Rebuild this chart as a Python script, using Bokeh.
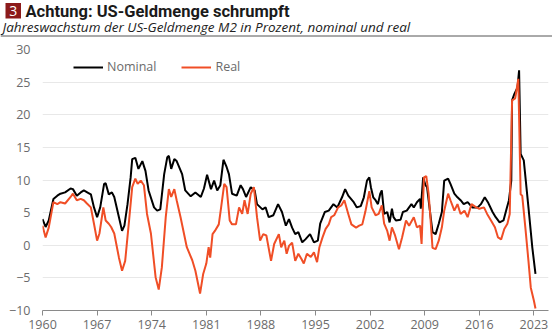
from bokeh.plotting import figure
from bokeh.layouts import column
from bokeh.models import Range1d, FixedTicker, Legend, LegendItem
from bokeh.core.properties import value
from bokeh.embed import file_html
from bokeh.resources import INLINE

# ---- data ----
years_nominal = [1960.0,1960.4,1960.8,1961.4,1961.9,1962.3,1962.9,1963.6,1963.9,1964.4,1964.9,1965.3,1965.9,1966.2,1966.6,1967.0,1967.4,1967.9,1968.1,1968.5,1968.9,1969.2,1969.8,1970.2,1970.5,1970.9,1971.3,1971.5,1971.9,1972.3,1972.8,1973.2,1973.6,1974.3,1974.7,1975.1,1975.6,1976.0,1976.2,1976.5,1976.9,1977.2,1977.9,1978.3,1979.0,1979.6,1980.3,1980.7,1981.1,1981.6,1982.0,1982.4,1982.8,1983.2,1983.6,1983.9,1984.3,1984.9,1985.4,1985.7,1986.1,1986.7,1987.2,1987.5,1988.2,1988.6,1989.0,1989.6,1990.2,1990.7,1991.2,1991.6,1992.0,1992.4,1992.8,1993.3,1993.7,1994.3,1994.8,1995.3,1995.6,1996.2,1996.7,1997.3,1997.8,1998.4,1998.8,1999.2,1999.9,2000.3,2000.8,2001.2,2001.6,2001.9,2002.1,2002.4,2002.7,2003.0,2003.3,2003.5,2003.8,2004.2,2004.5,2004.8,2005.0,2005.3,2005.9,2006.2,2006.7,2007.3,2007.6,2008.0,2008.4,2008.5,2008.8,2009.1,2009.3,2009.5,2010.0,2010.4,2010.8,2011.2,2011.5,2012.0,2012.3,2012.8,2013.2,2013.6,2014.0,2014.5,2015.1,2015.8,2016.2,2016.7,2017.1,2017.7,2018.1,2018.6,2019.1,2019.5,2019.8,2020.1,2020.2,2020.5,2020.9,2021.1,2021.3,2021.7,2022.3,2022.8,2023.2]
nominal = [4.0,2.8,3.8,7.1,7.6,7.9,8.1,8.7,8.6,7.6,8.1,8.4,8.0,7.8,5.8,4.3,5.8,9.4,9.5,7.8,8.1,7.4,4.3,2.2,3.0,6.3,10.4,13.2,13.4,11.7,12.9,11.4,8.4,5.8,5.3,5.5,10.9,13.5,13.7,11.7,13.2,12.9,10.9,8.4,7.5,8.1,7.4,8.7,10.8,8.6,9.9,8.4,9.2,13.1,12.0,10.9,7.9,7.6,9.2,8.6,7.4,8.9,8.4,6.3,5.5,5.8,4.3,4.6,6.3,5.1,3.0,4.0,2.7,1.7,2.0,0.45,0.9,1.7,0.45,0.7,3.3,5.1,5.3,6.3,5.8,7.35,8.6,7.6,6.6,5.8,6.0,7.35,9.9,10.4,8.9,7.35,6.9,6.3,7.9,8.4,4.8,5.1,3.5,5.6,4.3,3.8,3.9,5.1,5.3,6.3,5.8,6.6,7.1,5.6,10.4,9.2,8.9,6.9,2.0,1.7,3.3,5.1,9.9,10.2,9.4,7.9,7.35,6.9,6.3,6.6,5.8,5.8,6.3,7.35,6.6,5.1,4.3,3.5,3.8,5.6,6.9,9.9,22.2,23.2,24.2,26.8,14.0,13.0,5.8,-0.4,-4.4]

years_real = [1960.0,1960.4,1960.8,1961.4,1961.9,1962.3,1962.9,1963.6,1963.9,1964.4,1964.9,1965.3,1965.7,1966.2,1966.6,1967.0,1967.3,1967.8,1968.1,1968.5,1968.8,1969.2,1969.8,1970.2,1970.6,1971.1,1971.5,1971.9,1972.2,1972.6,1973.0,1973.4,1973.9,1974.5,1974.9,1975.3,1975.8,1976.2,1976.5,1976.9,1977.2,1977.7,1978.5,1979.2,1979.6,1980.2,1980.6,1981.0,1981.3,1981.5,1981.8,1982.1,1982.6,1982.9,1983.3,1983.6,1984.0,1984.3,1984.8,1985.2,1985.6,1985.9,1986.3,1986.7,1987.1,1987.5,1987.9,1988.3,1988.7,1989.3,1989.7,1990.3,1990.6,1991.0,1991.3,1991.6,1992.0,1992.4,1992.8,1993.2,1993.5,1993.9,1994.4,1994.8,1995.2,1995.5,1995.9,1996.3,1996.7,1997.0,1997.4,1997.9,1998.3,1998.7,1999.2,1999.6,2000.2,2000.6,2001.0,2001.4,2001.9,2002.2,2002.7,2003.1,2003.5,2003.8,2004.2,2004.5,2004.8,2005.2,2005.7,2006.1,2006.6,2007.0,2007.6,2008.0,2008.4,2008.6,2008.9,2009.2,2009.5,2009.7,2010.0,2010.4,2010.8,2011.2,2011.5,2012.0,2012.3,2012.8,2013.2,2013.6,2014.1,2014.5,2015.0,2015.6,2016.0,2016.6,2017.0,2017.5,2018.0,2018.4,2018.8,2019.2,2019.6,2019.9,2020.2,2020.6,2021.0,2021.3,2021.5,2021.9,2022.3,2022.6,2023.0,2023.2]
real = [3.0,1.2,2.7,6.6,6.3,6.6,6.4,7.4,7.9,6.9,7.1,6.9,6.4,5.8,3.3,0.7,1.8,5.8,3.8,3.3,2.8,1.8,-1.9,-3.9,-2.4,3.8,8.9,10.2,9.4,9.9,9.2,4.8,1.8,-4.9,-6.8,-3.4,4.3,8.6,7.4,8.6,6.9,4.3,-0.3,-2.3,-3.9,-7.4,-4.4,-2.8,-0.3,-1.9,1.7,2.2,3.2,5.8,9.4,8.9,3.8,3.2,3.2,5.8,4.8,6.9,4.8,7.9,8.9,4.3,0.7,1.7,1.5,-2.4,0.2,1.7,-0.3,0.7,-1.3,-0.1,0.4,-2.4,-1.3,-2.1,-2.8,-1.3,-1.8,-1.1,-2.6,-0.3,1.2,2.5,3.2,4.3,4.6,5.8,6.1,6.9,4.8,3.2,2.7,3.0,3.2,5.2,8.3,5.8,4.6,4.8,6.1,3.3,2.2,0.7,2.75,1.5,-0.6,1.2,3.8,3.0,4.3,2.75,3.0,0.2,10.4,10.6,7.9,4.8,-0.4,-0.6,0.7,2.75,5.3,7.9,6.9,5.3,6.3,4.8,5.3,4.3,6.3,5.8,5.6,5.8,4.8,3.8,2.75,1.2,0.9,2.5,3.3,4.8,22.2,22.5,25.5,7.8,7.6,2.75,-2.4,-6.5,-8.5,-9.7]

x_ticks = [1960, 1967, 1974, 1981, 1988, 1995, 2002, 2009, 2016, 2023]
y_ticks = [-10, -5, 0, 5, 10, 15, 20, 25, 30]

title_text = "Achtung: US-Geldmenge schrumpft"
subtitle_text = "Jahreswachstum der US-Geldmenge M2 in Prozent, nominal und real"
chart_number = "3"
series_names = ["Nominal", "Real"]

FONT = "Open Sans"
GREY = "#6b6b6b"
HEAD_H = 40

# ---- header strip (pixel coordinates, y measured from top) ----
h = figure(width=552, height=HEAD_H, output_backend="svg", toolbar_location=None,
           x_range=Range1d(0, 552), y_range=Range1d(HEAD_H, 0),
           x_axis_type=None, y_axis_type=None, min_border=0)
h.frame_align = False
h.outline_line_color = None
h.grid.visible = False
h.quad(left=[5], right=[20.5], top=[2.5], bottom=[18], fill_color="#8c1b1b", line_color=None)
h.text(x=[12.75], y=[10.5], text=[chart_number], text_color="white",
       text_font=value(FONT), text_font_size="14px", text_align="center",
       text_baseline="middle")
h.text(x=[25], y=[10.5], text=[title_text], text_color="#1a1a1a",
       text_font=value("Roboto"), text_font_size="16.5px", text_font_style="bold",
       text_baseline="middle")
h.text(x=[2], y=[26.5], text=[subtitle_text], text_color="#222222",
       text_font=value(FONT), text_font_size="13.5px", text_font_style="italic",
       text_baseline="middle")
h.segment(x0=[0], y0=[35.5], x1=[552], y1=[35.5], line_color="#555555", line_width=1)

# ---- chart ----
p = figure(width=552, height=334 - HEAD_H, output_backend="svg", toolbar_location=None,
           x_range=Range1d(1960, 2024.87), y_range=Range1d(-10, 30),
           min_border_left=42, min_border_right=4, min_border_top=49 - HEAD_H,
           min_border_bottom=24)
p.frame_align = False
p.outline_line_color = None
p.background_fill_color = "white"
p.border_fill_color = "white"

p.xgrid.grid_line_color = None
p.ygrid.grid_line_color = "#e8e8e8"
p.ygrid.grid_line_width = 1

p.yaxis.ticker = FixedTicker(ticks=y_ticks)
p.yaxis.axis_line_color = None
p.yaxis.major_tick_line_color = None
p.yaxis.minor_tick_line_color = None
p.yaxis.major_tick_out = 0
p.yaxis.major_label_standoff = 12
p.yaxis.major_label_text_font = FONT
p.yaxis.major_label_text_font_size = "12.5px"
p.yaxis.major_label_text_color = GREY

p.xaxis.ticker = FixedTicker(ticks=x_ticks)
p.xaxis.axis_line_color = "#8a8a8a"
p.xaxis.axis_line_width = 1
p.xaxis.major_tick_line_color = "#8a8a8a"
p.xaxis.major_tick_out = 5
p.xaxis.major_tick_in = 0
p.xaxis.minor_tick_line_color = None
p.xaxis.major_label_standoff = 4
p.xaxis.major_label_text_font = FONT
p.xaxis.major_label_text_font_size = "12.5px"
p.xaxis.major_label_text_color = GREY

r_nom = p.line(years_nominal, nominal, line_color="black", line_width=2)
r_real = p.line(years_real, real, line_color="#f04e26", line_width=2)

legend = Legend(items=[LegendItem(label=series_names[0], renderers=[r_nom]),
                       LegendItem(label=series_names[1], renderers=[r_real])],
                orientation="horizontal", location=(31, 235),
                border_line_color=None, background_fill_alpha=0,
                glyph_width=30, glyph_height=16, label_standoff=4, spacing=25,
                padding=0, margin=0,
                label_text_font=FONT, label_text_font_size="12.5px",
                label_text_color=GREY)
p.add_layout(legend)

layout = column(h, p, spacing=0)
open("out.html", "w").write(file_html(layout, INLINE))
